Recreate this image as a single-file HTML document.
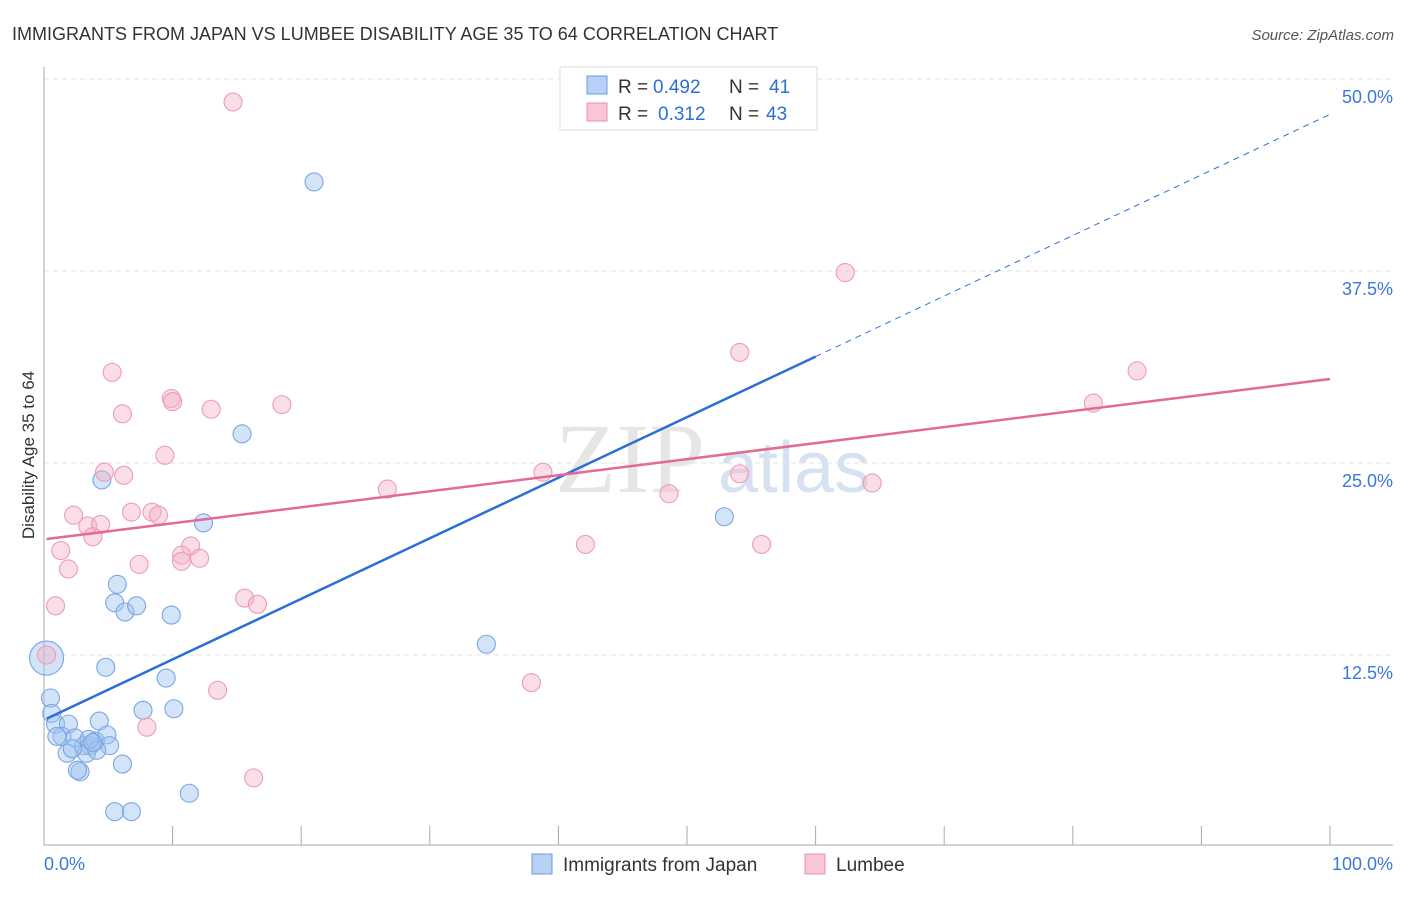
<!DOCTYPE html>
<html><head><meta charset="utf-8"><style>
body{margin:0;background:#fff;font-family:"Liberation Sans",sans-serif}
</style></head><body>
<svg id="c" width="1406" height="892" xmlns="http://www.w3.org/2000/svg" style="font-family:'Liberation Sans',sans-serif">
<text x="12" y="40" font-size="18" fill="#333">IMMIGRANTS FROM JAPAN VS LUMBEE DISABILITY AGE 35 TO 64 CORRELATION CHART</text>
<text x="1394" y="40" font-size="15" fill="#555" text-anchor="end" font-style="italic">Source: ZipAtlas.com</text>
<text x="555" y="492" font-size="100" fill="#e6e6e6" font-family="Liberation Serif">ZIP</text>
<text x="718" y="492" font-size="72" fill="#d6e2f2">atlas</text>
<text transform="translate(34,455) rotate(-90)" font-size="17" fill="#333" text-anchor="middle">Disability Age 35 to 64</text>
<g id="grid"></g><g id="marks"></g>
<g>
<rect x="560" y="67" width="257" height="63" fill="#fff" stroke="#ddd"/>
<rect x="587" y="76" width="20" height="18" fill="#b6d1f5" stroke="#6a9be0"/>
<rect x="587" y="103" width="20" height="18" fill="#f8c6d5" stroke="#e890aa"/>
<text x="618" y="93" font-size="19" fill="#333">R =</text>
<text x="653" y="93" font-size="19" fill="#2c6fd8">0.492</text>
<text x="729" y="93" font-size="19" fill="#333">N =</text>
<text x="769" y="93" font-size="19" fill="#2c6fd8">41</text>
<text x="618" y="120" font-size="19" fill="#333">R =</text>
<text x="658" y="120" font-size="19" fill="#2c6fd8">0.312</text>
<text x="729" y="120" font-size="19" fill="#333">N =</text>
<text x="766" y="120" font-size="19" fill="#2c6fd8">43</text>
</g>
<g>
<rect x="532" y="854" width="20" height="20" fill="#b6d1f5" stroke="#6a9be0"/>
<text x="563" y="871" font-size="19" fill="#333">Immigrants from Japan</text>
<rect x="805" y="854" width="20" height="20" fill="#f8c6d5" stroke="#e890aa"/>
<text x="836" y="871" font-size="19" fill="#333">Lumbee</text>
</g>
</svg>
<script>
const yTicks=[12.5,25,37.5,50];
const yTickLabels=["12.5%","25.0%","37.5%","50.0%"];
const xTickLabels=["0.0%","100.0%"];
const japanX=[5.7,5.5,6.3,7.2,9.9,0.2,4.8,0.5,9.5,7.7,10.1,0.6,0.9,1.9,1.4,1.0,2.4,4.3,3.1,3.6,4.0,4.9,5.1,3.3,1.8,4.1,2.8,2.6,6.1,11.3,5.5,6.8,15.4,4.5,12.4,21.0,34.4,52.9,3.5,2.2,3.8];
const japanY=[17.1,15.9,15.3,15.7,15.1,12.3,11.7,9.7,11.0,8.9,9.0,8.7,8.0,8.0,7.2,7.2,7.1,8.2,6.6,6.6,6.9,7.3,6.6,6.1,6.1,6.3,4.9,5.0,5.4,3.5,2.3,2.3,26.9,23.9,21.1,43.3,13.2,21.5,7.0,6.4,6.8];
const lumbeeX=[14.7,62.3,54.1,85.0,81.6,5.3,9.9,6.1,13.0,18.5,9.4,4.7,6.2,38.8,26.7,64.4,54.1,48.6,2.3,6.8,8.4,8.9,3.4,4.4,3.8,1.3,11.4,10.7,10.7,12.1,42.1,55.8,1.9,7.4,0.9,15.6,16.6,13.5,37.9,8.0,16.3,0.2,10.0];
const lumbeeY=[48.5,37.4,32.2,31.0,28.9,30.9,29.2,28.2,28.5,28.8,25.5,24.4,24.2,24.4,23.3,23.7,24.3,23.0,21.6,21.8,21.8,21.6,20.9,21.0,20.2,19.3,19.6,19.0,18.6,18.8,19.7,19.7,18.1,18.4,15.7,16.2,15.8,10.2,10.7,7.8,4.5,12.5,29.0];
const japanTrend=[8.27,47.7];
const lumbeeTrend=[20.05,30.47];
const X=v=>44+v*12.86, Y=v=>847-v*15.36;
const NS="http://www.w3.org/2000/svg";
function mk(t,a,p){const e=document.createElementNS(NS,t);for(const k in a)e.setAttribute(k,a[k]);p.appendChild(e);return e;}
const g=document.getElementById('grid'),m=document.getElementById('marks');
yTicks.forEach((t,i)=>{
 const l=mk('line',{x1:44,x2:1393,y1:Y(t),y2:Y(t),stroke:'#e2e2e2','stroke-dasharray':'5,4'},g);
 
 
 const tx=mk('text',{x:1393,y:Y(t)+24,'font-size':18,fill:'#3b78d8','text-anchor':'end'},g);
 tx.textContent=yTickLabels[i];
 
 
});
const ax=mk('line',{x1:44,x2:44,y1:67,y2:845,stroke:'#aaa'},g);


const bx=mk('line',{x1:44,x2:1393,y1:845,y2:845,stroke:'#aaa'},g);


for(let i=0;i<=10;i++){
 const t=mk('line',{x1:X(i*10),x2:X(i*10),y1:826,y2:845,stroke:'#aaa'},g);
 
 
}
[[0,'start'],[100,'end']].forEach((d,i)=>{
 const tx=mk('text',{x:X(d[0])+(i?63:0),y:870,'font-size':18,fill:'#3b78d8','text-anchor':d[1]},g);
 tx.textContent=xTickLabels[i];
 
 
});
japanX.forEach((x,i)=>{
 const c=mk('circle',{cx:X(x),cy:Y(japanY[i]),r:i==5?17:9,fill:'rgba(160,196,240,0.45)',stroke:'#7aa6e4','stroke-width':1.1},m);
 
 
});
lumbeeX.forEach((x,i)=>{
 const c=mk('circle',{cx:X(x),cy:Y(lumbeeY[i]),r:9,fill:'rgba(245,180,200,0.45)',stroke:'#eb9db4','stroke-width':1.1},m);
 
 
});
const jt=x=>japanTrend[0]+(japanTrend[1]-japanTrend[0])*x/100;
const l1=mk('line',{x1:X(0.2),y1:Y(jt(0.2)),x2:X(60),y2:Y(jt(60)),stroke:'#2a6fd6','stroke-width':2.5},m);


const l2=mk('line',{x1:X(60),y1:Y(jt(60)),x2:X(100),y2:Y(jt(100)),stroke:'#2a6fd6','stroke-width':1,'stroke-dasharray':'6,5'},m);


const l3=mk('line',{x1:X(0.2),y1:Y(lumbeeTrend[0]),x2:X(100),y2:Y(lumbeeTrend[1]),stroke:'#e26a93','stroke-width':2.5},m);


</script>
</body></html>
